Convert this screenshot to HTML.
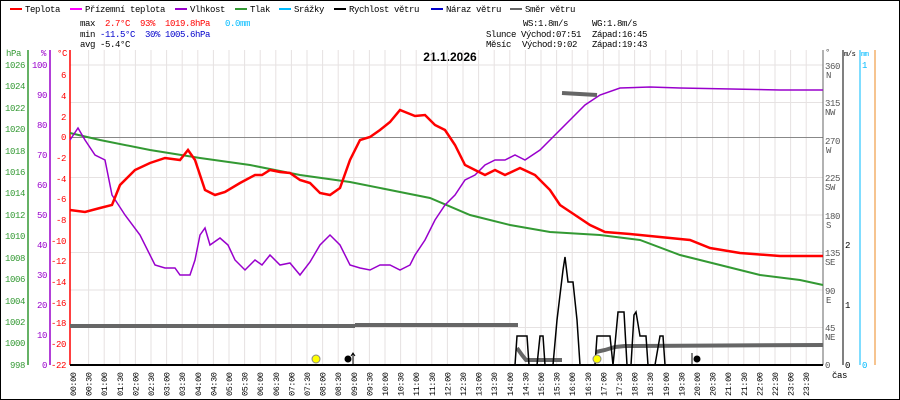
<!DOCTYPE html>
<html><head><meta charset="utf-8"><style>
body{margin:0;background:#fff;}
svg{display:block;font-family:"Liberation Mono","DejaVu Sans Mono",monospace;font-size:9px;letter-spacing:-0.4px;}
</style></head><body>
<svg width="900" height="400" viewBox="0 0 900 400" xmlns="http://www.w3.org/2000/svg">
<rect x="0.5" y="0.5" width="899" height="399" fill="#fff" stroke="#000"/>
<!-- legend -->
<g font-size="9">
<rect x="10" y="8" width="12" height="2" fill="#f00"/><text x="25" y="12">Teplota</text>
<rect x="70" y="8" width="12" height="2" fill="#f0f"/><text x="85" y="12">Přízemní teplota</text>
<rect x="175" y="8" width="12" height="2" fill="#90c"/><text x="190" y="12">Vlhkost</text>
<rect x="235" y="8" width="12" height="2" fill="#393"/><text x="250" y="12">Tlak</text>
<rect x="279" y="8" width="12" height="2" fill="#0bf"/><text x="294" y="12">Srážky</text>
<rect x="334" y="8" width="12" height="2" fill="#000"/><text x="349" y="12">Rychlost větru</text>
<rect x="431" y="8" width="12" height="2" fill="#00c"/><text x="446" y="12">Náraz větru</text>
<rect x="510" y="8" width="12" height="2" fill="#666"/><text x="525" y="12">Směr větru</text>
</g>
<g font-size="9">
<text x="80" y="26">max</text><text x="105" y="26" fill="#f00">2.7°C</text><text x="140" y="26" fill="#f00">93%</text><text x="165" y="26" fill="#f00">1019.8hPa</text><text x="225" y="26" fill="#0bf">0.0mm</text>
<text x="80" y="37">min</text><text x="100" y="37" fill="#00c">-11.5°C</text><text x="145" y="37" fill="#00c">30%</text><text x="165" y="37" fill="#00c">1005.6hPa</text>
<text x="80" y="47">avg -5.4°C</text>
<text x="523" y="26">WS:1.8m/s</text><text x="592" y="26">WG:1.8m/s</text>
<text x="486" y="37">Slunce Východ:07:51</text><text x="592" y="37">Západ:16:45</text>
<text x="486" y="47">Měsíc</text><text x="522" y="47">Východ:9:02</text><text x="592" y="47">Západ:19:43</text>
</g>
<text x="450" y="61" text-anchor="middle" font-weight="bold" font-size="12" letter-spacing="0" font-family="Liberation Sans,sans-serif">21.1.2026</text>
<!-- grid -->
<g stroke="#e6e2e2" stroke-width="1">
<line x1="70" y1="102.5" x2="823" y2="102.5"/><line x1="70" y1="177.5" x2="823" y2="177.5"/><line x1="70" y1="215" x2="823" y2="215"/><line x1="70" y1="252.5" x2="823" y2="252.5"/><line x1="70" y1="290" x2="823" y2="290"/><line x1="70" y1="327.5" x2="823" y2="327.5"/><line x1="70" y1="65" x2="823" y2="65"/>
<path d="M88.6 50V365M104.2 50V365M119.8 50V365M135.4 50V365M151 50V365M166.6 50V365M182.2 50V365M197.8 50V365M213.4 50V365M229 50V365M244.6 50V365M260.2 50V365M275.8 50V365M291.4 50V365M307 50V365M322.6 50V365M338.2 50V365M353.8 50V365M369.4 50V365M385 50V365M400.6 50V365M416.2 50V365M431.8 50V365M447.4 50V365M463 50V365M478.6 50V365M494.2 50V365M509.8 50V365M525.4 50V365M541 50V365M556.6 50V365M572.2 50V365M587.8 50V365M603.4 50V365M619 50V365M634.6 50V365M650.2 50V365M665.8 50V365M681.4 50V365M697 50V365M712.6 50V365M728.2 50V365M743.8 50V365M759.4 50V365M775 50V365M790.6 50V365M806.2 50V365"/>
</g>
<line x1="70" y1="137.5" x2="823" y2="137.5" stroke="#888"/>
<!-- left axes -->
<line x1="28" y1="50" x2="28" y2="365" stroke="#393" stroke-width="1.5"/>
<line x1="50" y1="50" x2="50" y2="365" stroke="#90c" stroke-width="1.5"/>
<line x1="70" y1="50" x2="70" y2="365" stroke="#f00" stroke-width="1.5"/>
<g font-size="9" fill="#393" text-anchor="end">
<text x="21" y="56">hPa</text>
<text x="25" y="68">1026</text><text x="25" y="89">1024</text><text x="25" y="111">1022</text><text x="25" y="132">1020</text><text x="25" y="154">1018</text><text x="25" y="175">1016</text><text x="25" y="196">1014</text><text x="25" y="218">1012</text><text x="25" y="239">1010</text><text x="25" y="261">1008</text><text x="25" y="282">1006</text><text x="25" y="304">1004</text><text x="25" y="325">1002</text><text x="25" y="346">1000</text><text x="25" y="368">998</text>
</g>
<g font-size="9" fill="#90c" text-anchor="end">
<text x="46" y="56">%</text>
<text x="47" y="68">100</text><text x="47" y="98">90</text><text x="47" y="128">80</text><text x="47" y="158">70</text><text x="47" y="188">60</text><text x="47" y="218">50</text><text x="47" y="248">40</text><text x="47" y="278">30</text><text x="47" y="308">20</text><text x="47" y="338">10</text><text x="47" y="368">0</text>
</g>
<g font-size="9" fill="#f00" text-anchor="end">
<text x="67" y="56">°C</text>
<text x="66" y="78">6</text><text x="66" y="99">4</text><text x="66" y="120">2</text><text x="66" y="140">0</text><text x="66" y="161">-2</text><text x="66" y="182">-4</text><text x="66" y="202">-6</text><text x="66" y="223">-8</text><text x="66" y="244">-10</text><text x="66" y="264">-12</text><text x="66" y="285">-14</text><text x="66" y="306">-16</text><text x="66" y="326">-18</text><text x="66" y="347">-20</text><text x="66" y="368">-22</text>
</g>
<!-- right axes -->
<line x1="823" y1="50" x2="823" y2="365" stroke="#666" stroke-width="1"/>
<line x1="843" y1="50" x2="843" y2="365" stroke="#000"/>
<line x1="860" y1="50" x2="860" y2="365" stroke="#0bf"/>
<line x1="875" y1="50" x2="875" y2="365" stroke="#e82"/>
<g font-size="9" fill="#555">
<text x="825" y="55">°</text>
<text x="825" y="69">360</text><text x="826" y="78">N</text>
<text x="825" y="106">315</text><text x="825" y="115">NW</text>
<text x="825" y="144">270</text><text x="826" y="153">W</text>
<text x="825" y="181">225</text><text x="825" y="190">SW</text>
<text x="825" y="219">180</text><text x="826" y="228">S</text>
<text x="825" y="256">135</text><text x="825" y="265">SE</text>
<text x="825" y="294">90</text><text x="826" y="303">E</text>
<text x="825" y="331">45</text><text x="825" y="340">NE</text>
<text x="825" y="368">0</text>
</g>
<g font-size="9"><text x="844" y="56" font-size="7">m/s</text><text x="845" y="248">2</text><text x="845" y="308">1</text><text x="845" y="368">0</text></g>
<g font-size="9" fill="#0bf"><text x="861" y="56" font-size="7">mm</text><text x="862" y="68">1</text><text x="862" y="368">0</text></g>
<text x="832" y="378" font-size="9">čas</text>
<!-- series -->
<polyline fill="none" stroke="#393" stroke-width="2" points="70,133 100,140 150,150 200,158 250,165 300,175 350,182 400,192 430,198 470,215 510,225 550,232 600,235 640,240 680,255 720,265 760,275 800,280 823,285"/>
<polyline fill="none" stroke="#90c" stroke-width="1.5" points="70,140 78,128 85,140 95,155 105,160 112,195 125,215 140,235 155,265 165,268 175,268 180,275 190,275 195,260 200,235 205,228 210,245 220,238 228,245 235,260 245,270 255,260 262,265 270,255 280,265 290,263 300,275 310,262 320,245 330,235 340,245 350,265 360,268 370,270 380,265 390,265 400,270 410,265 415,255 425,240 435,220 445,205 455,195 465,180 475,175 485,165 495,160 505,160 515,155 525,160 540,150 555,135 570,120 585,105 600,95 620,88 650,87 680,88 780,90 823,90"/>
<polyline fill="none" stroke="#f00" stroke-width="2.5" points="70,210 85,212 100,208 112,205 120,185 135,170 150,163 165,158 180,160 188,150 195,160 205,190 215,195 225,192 240,183 255,175 262,175 270,170 280,172 290,173 300,180 310,183 320,193 330,195 340,188 350,160 360,140 370,137 380,130 390,122 400,110 405,112 415,116 425,115 435,125 445,130 455,145 465,165 475,170 485,175 495,170 505,175 520,168 535,175 550,190 560,205 575,215 590,225 605,232 630,234 660,237 690,240 710,248 740,253 780,256 823,256"/>
<g stroke="#666" stroke-width="4" fill="none">
<polyline points="70,326 355,326"/><polyline points="355,325 518,325"/>
<polyline points="517,348 522,355 526,360 562,360"/>
<polyline points="562,93 597,95"/>
<polyline points="596,352 605,350 615,347 625,346 823,345"/>
</g>
<polyline fill="none" stroke="#000" stroke-width="1.5" points="515,365 517,336 527,336 529,365 537,365 540,336 543,336 545,365 553,365 557,320 563,270 565,257 568,282 573,282 577,320 580,365 595,365 597,336 610,336 613,365 614,355 618,312 624,312 627,365 631,365 634,315 636,312 640,336 646,336 648,365 655,365 660,336 663,336 665,365"/>
<line x1="517" y1="365" x2="665" y2="365" stroke="#0bf" stroke-width="2"/>
<line x1="70" y1="365" x2="823" y2="365" stroke="#000" stroke-width="2"/>
<!-- icons -->
<circle cx="316" cy="359" r="4" fill="#ff0" stroke="#888"/>
<circle cx="348" cy="359" r="3.5" fill="#000"/><path d="M353 364V354M351 356L353 353L355 356" stroke="#000" fill="none"/>
<circle cx="597" cy="359" r="4" fill="#ff0" stroke="#888"/>
<circle cx="697" cy="359" r="3.5" fill="#000"/><path d="M692 364V353" stroke="#000"/>
<!-- time labels -->
<g font-size="8.5">
<text transform="translate(76,396) rotate(-90)">00:00</text><text transform="translate(91.6,396) rotate(-90)">00:30</text><text transform="translate(107.2,396) rotate(-90)">01:00</text><text transform="translate(122.8,396) rotate(-90)">01:30</text><text transform="translate(138.4,396) rotate(-90)">02:00</text><text transform="translate(154,396) rotate(-90)">02:30</text><text transform="translate(169.6,396) rotate(-90)">03:00</text><text transform="translate(185.2,396) rotate(-90)">03:30</text><text transform="translate(200.8,396) rotate(-90)">04:00</text><text transform="translate(216.4,396) rotate(-90)">04:30</text><text transform="translate(232,396) rotate(-90)">05:00</text><text transform="translate(247.6,396) rotate(-90)">05:30</text><text transform="translate(263.2,396) rotate(-90)">06:00</text><text transform="translate(278.8,396) rotate(-90)">06:30</text><text transform="translate(294.4,396) rotate(-90)">07:00</text><text transform="translate(310,396) rotate(-90)">07:30</text><text transform="translate(325.6,396) rotate(-90)">08:00</text><text transform="translate(341.2,396) rotate(-90)">08:30</text><text transform="translate(356.8,396) rotate(-90)">09:00</text><text transform="translate(372.4,396) rotate(-90)">09:30</text><text transform="translate(388,396) rotate(-90)">10:00</text><text transform="translate(403.6,396) rotate(-90)">10:30</text><text transform="translate(419.2,396) rotate(-90)">11:00</text><text transform="translate(434.8,396) rotate(-90)">11:30</text><text transform="translate(450.4,396) rotate(-90)">12:00</text><text transform="translate(466,396) rotate(-90)">12:30</text><text transform="translate(481.6,396) rotate(-90)">13:00</text><text transform="translate(497.2,396) rotate(-90)">13:30</text><text transform="translate(512.8,396) rotate(-90)">14:00</text><text transform="translate(528.4,396) rotate(-90)">14:30</text><text transform="translate(544,396) rotate(-90)">15:00</text><text transform="translate(559.6,396) rotate(-90)">15:30</text><text transform="translate(575.2,396) rotate(-90)">16:00</text><text transform="translate(590.8,396) rotate(-90)">16:30</text><text transform="translate(606.4,396) rotate(-90)">17:00</text><text transform="translate(622,396) rotate(-90)">17:30</text><text transform="translate(637.6,396) rotate(-90)">18:00</text><text transform="translate(653.2,396) rotate(-90)">18:30</text><text transform="translate(668.8,396) rotate(-90)">19:00</text><text transform="translate(684.4,396) rotate(-90)">19:30</text><text transform="translate(700,396) rotate(-90)">20:00</text><text transform="translate(715.6,396) rotate(-90)">20:30</text><text transform="translate(731.2,396) rotate(-90)">21:00</text><text transform="translate(746.8,396) rotate(-90)">21:30</text><text transform="translate(762.4,396) rotate(-90)">22:00</text><text transform="translate(778,396) rotate(-90)">22:30</text><text transform="translate(793.6,396) rotate(-90)">23:00</text><text transform="translate(809.2,396) rotate(-90)">23:30</text>
</g>
</svg>
</body></html>
